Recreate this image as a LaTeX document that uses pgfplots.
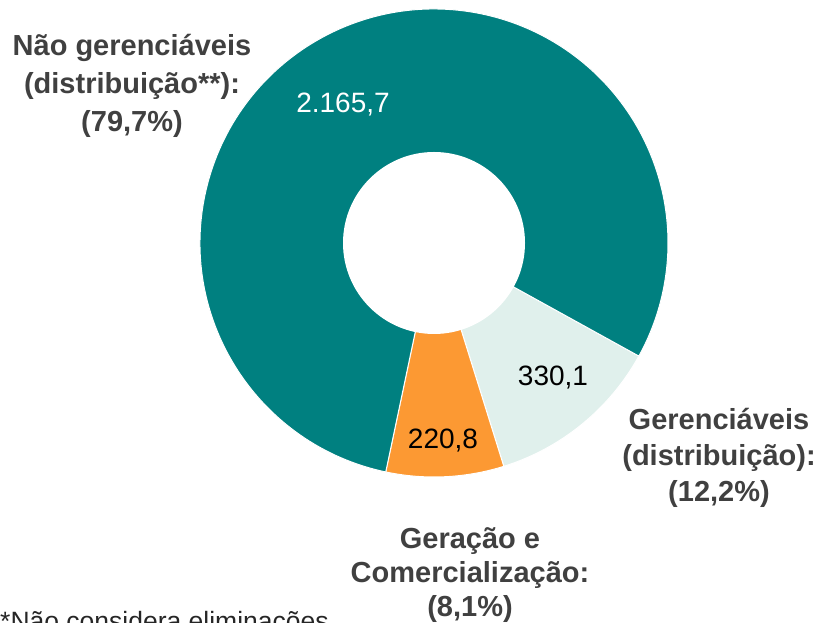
\documentclass[border=0pt]{standalone}
\usepackage{pgfplots}
\usepackage{pgfplotstable}
\pgfplotsset{compat=1.18}
\usepackage{fontspec}
\setmainfont{Liberation Sans}
\definecolor{teal1}{RGB}{0,128,128}
\definecolor{light1}{RGB}{224,240,236}
\definecolor{orange1}{RGB}{252,153,51}
\definecolor{lab}{RGB}{64,64,64}
\pgfplotstableread{
label value
NaoGer 2165.7
Ger 330.1
GerCom 220.8
}\datatable
\begin{document}
\begin{tikzpicture}
\useasboundingbox (0,0) rectangle (819pt,623pt);
\pgfplotstablegetelem{0}{value}\of\datatable \let\vA\pgfplotsretval
\pgfplotstablegetelem{1}{value}\of\datatable \let\vB\pgfplotsretval
\pgfplotstablegetelem{2}{value}\of\datatable \let\vC\pgfplotsretval
\pgfmathsetmacro\tot{\vA+\vB+\vC}
\pgfmathsetmacro\fB{\vB/\tot}
\pgfmathsetmacro\fC{\vC/\tot}
\pgfmathsetmacro\aS{-28.9}
\pgfmathsetmacro\aB{\aS-360*\fB}
\pgfmathsetmacro\aC{\aB-360*\fC}
\pgfmathsetmacro\aE{\aS-360}
\begin{axis}[x=1pt,y=1pt,xmin=0,xmax=819,ymin=0,ymax=623,
  hide axis,scale only axis,clip=false,at={(0,0)},anchor=south west]
\fill[light1,draw=white,line width=1pt] (axis cs:434,380) -- ++(\aS:234pt) arc[start angle=\aS,end angle=\aB,radius=234pt] -- cycle;
\fill[orange1,draw=white,line width=1pt] (axis cs:434,380) -- ++(\aB:234pt) arc[start angle=\aB,end angle=\aC,radius=234pt] -- cycle;
\fill[teal1,draw=white,line width=1pt] (axis cs:434,380) -- ++(\aC:234pt) arc[start angle=\aC,end angle=\aE,radius=234pt] -- cycle;
\fill[white] (axis cs:434,380) circle[radius=91pt];
\node[font=\fontsize{28}{34}\selectfont,text=white] at (axis cs:343,518) {2.165,7};
\node[font=\fontsize{28}{34}\selectfont,text=black] at (axis cs:553,245) {330,1};
\node[font=\fontsize{28}{34}\selectfont,text=black] at (axis cs:443,182) {220,8};
\node[font=\fontsize{29}{38}\selectfont\bfseries,text=lab,align=center] at (axis cs:132,537) {Não gerenciáveis\\(distribuição**):\\(79,7\%)};
\node[font=\fontsize{29}{36}\selectfont\bfseries,text=lab,align=center] at (axis cs:719,165) {Gerenciáveis\\(distribuição):\\(12,2\%)};
\node[font=\fontsize{29}{34}\selectfont\bfseries,text=lab,align=center] at (axis cs:470,48) {Geração e\\Comercialização:\\(8,1\%)};
\node[font=\fontsize{26.5}{30}\selectfont,text=black!85,anchor=base west,inner sep=0pt] at (axis cs:0,-8) {*Não considera eliminações};
\end{axis}
\end{tikzpicture}
\end{document}
